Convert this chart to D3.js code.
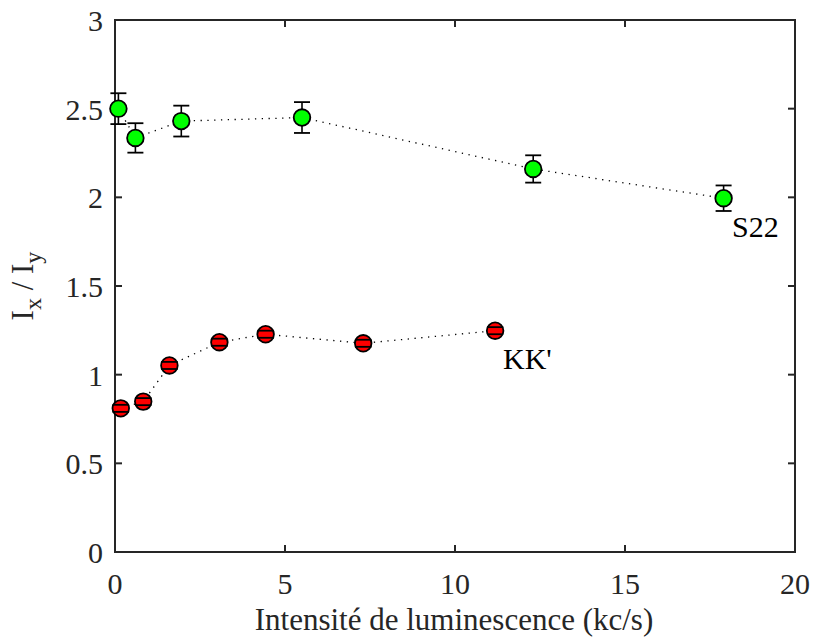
<!DOCTYPE html>
<html><head><meta charset="utf-8">
<script src="https://cdn.jsdelivr.net/npm/d3@7"></script>
<style>body{margin:0;background:#fff}svg{display:block}text{font-family:"Liberation Serif","Times New Roman",Times,"DejaVu Serif",serif}</style>
</head><body>
<script>
const s22X = [0.1, 0.6, 1.95, 5.5, 12.3, 17.9];
const s22Y = [2.50, 2.335, 2.43, 2.45, 2.16, 1.995];
const s22Err = [0.087, 0.083, 0.087, 0.087, 0.077, 0.072];
const kkX = [0.17, 0.83, 1.6, 3.07, 4.43, 7.3, 11.18];
const kkY = [0.81, 0.848, 1.052, 1.183, 1.228, 1.177, 1.248];
const kkErr = [0.02, 0.02, 0.02, 0.02, 0.02, 0.02, 0.02];
const xTicks = [0, 5, 10, 15, 20];
const yTicks = [0, 0.5, 1, 1.5, 2, 2.5, 3];
const yTickLabels = ["0", "0.5", "1", "1.5", "2", "2.5", "3"];
const xLabel = "Intensité de luminescence (kc/s)";
const seriesLabels = ["S22", "KK'"];

const W = 814, H = 639;
const m = {left: 115, right: 19, top: 20, bottom: 87};
const svg = d3.select("body").append("svg").attr("width", W).attr("height", H);
const x = d3.scaleLinear().domain([0, 20]).range([m.left, W - m.right]);
const y = d3.scaleLinear().domain([0, 3]).range([H - m.bottom, m.top]);
const axCol = "#262626";

const line = d3.line().x(d => x(d[0])).y(d => y(d[1]));
function drawSeries(xs, ys, es, fill) {
  const pts = xs.map((v, i) => [v, ys[i], es[i]]);
  svg.append("path").datum(pts).attr("d", line).attr("fill", "none")
    .attr("stroke", "#000").attr("stroke-width", 1.3).attr("stroke-dasharray", "1.3,5.5");
  const g = svg.append("g");
  const cap = 8;
  pts.forEach(p => {
    const cx = x(p[0]);
    g.append("line").attr("x1", cx).attr("x2", cx).attr("y1", y(p[1] - p[2])).attr("y2", y(p[1] + p[2]))
      .attr("stroke", "#000").attr("stroke-width", 1.6);
    [p[1] - p[2], p[1] + p[2]].forEach(v => {
      g.append("line").attr("x1", cx - cap).attr("x2", cx + cap).attr("y1", y(v)).attr("y2", y(v))
        .attr("stroke", "#000").attr("stroke-width", 1.8);
    });
  });
  pts.forEach(p => {
    g.append("circle").attr("cx", x(p[0])).attr("cy", y(p[1])).attr("r", 8.3)
      .attr("fill", fill).attr("stroke", "#000").attr("stroke-width", 1.8);
  });
  pts.forEach(p => {
    const cx = x(p[0]);
    [p[1] - p[2], p[1] + p[2]].forEach(v => {
      if (Math.abs(y(v) - y(p[1])) < 8)
        g.append("line").attr("x1", cx - cap).attr("x2", cx + cap).attr("y1", y(v)).attr("y2", y(v))
          .attr("stroke", "#000").attr("stroke-width", 1.8);
    });
  });
}

const gAx = svg.append("g");
gAx.append("rect").attr("x", m.left).attr("y", m.top).attr("width", W - m.right - m.left)
  .attr("height", H - m.bottom - m.top).attr("fill", "none").attr("stroke", axCol).attr("stroke-width", 2);

const tl = 7;
xTicks.forEach(t => {
  gAx.append("line").attr("x1", x(t)).attr("x2", x(t)).attr("y1", y(0)).attr("y2", y(0) - tl).attr("stroke", axCol).attr("stroke-width", 2);
  gAx.append("line").attr("x1", x(t)).attr("x2", x(t)).attr("y1", y(3)).attr("y2", y(3) + tl).attr("stroke", axCol).attr("stroke-width", 2);
  gAx.append("text").attr("x", x(t)).attr("y", y(0) + 42).attr("text-anchor", "middle")
    .attr("font-size", 30).attr("fill", axCol).text(t);
});
yTicks.forEach((t, i) => {
  gAx.append("line").attr("x1", x(0)).attr("x2", x(0) + tl).attr("y1", y(t)).attr("y2", y(t)).attr("stroke", axCol).attr("stroke-width", 2);
  gAx.append("line").attr("x1", x(20)).attr("x2", x(20) - tl).attr("y1", y(t)).attr("y2", y(t)).attr("stroke", axCol).attr("stroke-width", 2);
  gAx.append("text").attr("x", x(0) - 12).attr("y", y(t) + 11).attr("text-anchor", "end")
    .attr("font-size", 30).attr("fill", axCol).text(yTickLabels[i]);
});

drawSeries(s22X, s22Y, s22Err, "#00ff00");
drawSeries(kkX, kkY, kkErr, "#ff0000");

svg.append("text").attr("x", 732).attr("y", 237).attr("font-size", 30).attr("fill", "#000").text(seriesLabels[0]);
svg.append("text").attr("x", 503).attr("y", 369).attr("font-size", 30).attr("fill", "#000").text(seriesLabels[1]);

svg.append("text").attr("x", 454).attr("y", 630).attr("text-anchor", "middle")
  .attr("font-size", 31).attr("fill", axCol).text(xLabel);

const yl = svg.append("text").attr("transform", `translate(33,${(y(0) + y(3)) / 2}) rotate(-90)`)
  .attr("text-anchor", "middle").attr("font-size", 31).attr("fill", axCol);
yl.append("tspan").text("I");
yl.append("tspan").attr("dy", 8).attr("font-size", 24).text("x");
yl.append("tspan").attr("dy", -8).text(" / I");
yl.append("tspan").attr("dy", 8).attr("font-size", 24).text("y");
</script>
</body></html>
